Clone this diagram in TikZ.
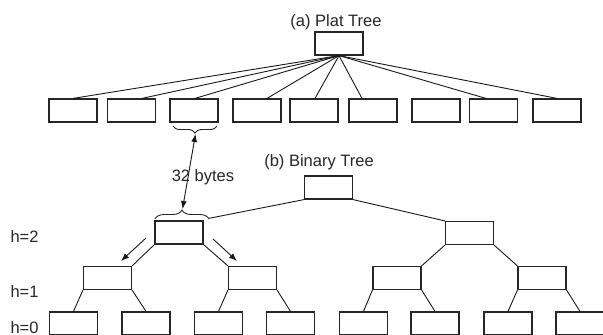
\documentclass[tikz,border=0pt]{standalone}
\usepackage{fontspec}
\setmainfont{Liberation Sans}
\usetikzlibrary{arrows.meta,decorations.pathreplacing}
\begin{document}
\begin{tikzpicture}[x=1pt,y=-1pt,
  box/.style={draw=black!85,line width=1.2pt,minimum width=48pt,minimum height=23pt,inner sep=0pt},
  edge/.style={draw=black!90,line width=0.9pt},
  lbl/.style={font=\fontsize{16.5}{20}\selectfont,text=black!85,inner sep=0pt,anchor=base},
  tip/.style={-{Latex[length=8pt,width=6pt]},line width=0.9pt,draw=black!90},
  bracket/.style={decorate,line width=0.9pt,draw=black!85},
]
\useasboundingbox (0,0) rectangle (603,335);

% ---------- (a) flat tree ----------
\node[lbl] (ta) at (336,26) {(a) Plat Tree};
\node[box] (fr) at (339,43.5) {};
\foreach \i/\x in {1/73,2/131.5,3/194,4/257,5/314,6/373,7/436,8/493.5,9/557}
  \node[box] (f\i) at (\x,110.5) {};

\draw[edge] (fr.south) -- (f1.north);
\draw[edge] (fr.south) -- ([xshift=10.5pt]f2.north);
\draw[edge] (fr.south) -- ([xshift=1pt]f3.north);
\draw[edge] (fr.south) -- ([xshift=10pt]f4.north);
\draw[edge] (fr.south) -- ([xshift=1pt]f5.north);
\draw[edge] (fr.south) -- ([xshift=-11pt]f6.north);
\draw[edge] (fr.south) -- ([xshift=-7.5pt]f8.north);
\draw[edge] (fr.south) -- (f9.north);

% ---------- (b) binary tree ----------
\node[lbl] (tb) at (319,166) {(b) Binary Tree};
\node[box] (br) at (328.5,187.5) {};
\node[box] (l2a) at (179,232.5) {};
\node[box] (l2b) at (469.5,233) {};
\foreach \i/\x in {a/107.5,b/252.5,c/397,d/542}
  \node[box] (l1\i) at (\x,278) {};
\foreach \i/\x in {a/73.5,b/146,c/218.5,d/290.5,e/363.5,f/435,g/508,h/580}
  \node[box] (l0\i) at (\x,323.5) {};

\node[lbl] (h2) at (24.5,242) {h=2};
\node[lbl] (h1) at (24.5,297) {h=1};
\node[lbl] (h0) at (24.5,333) {h=0};

\draw[edge] (br.south west) -- ([xshift=5pt,yshift=2pt]l2a.north east);
\draw[edge] (br.south east) -- (l2b.north west);
\draw[edge] (l2a.south west) -- (l1a.north east);
\draw[edge] (l2a.south east) -- (l1b.north west);
\draw[edge] (l2b.south west) -- (l1c.north east);
\draw[edge] (l2b.south east) -- (l1d.north west);
\draw[edge] (l1a.south west) -- (l0a.north);
\draw[edge] (l1a.south east) -- (l0b.north);
\draw[edge] (l1b.south west) -- (l0c.north);
\draw[edge] (l1b.south east) -- (l0d.north);
\draw[edge] (l1c.south west) -- (l0e.north);
\draw[edge] (l1c.south east) -- (l0f.north);
\draw[edge] (l1d.south west) -- (l0g.north);
\draw[edge] (l1d.south east) -- (l0h.north);

% descent arrows beside the h=2 node
\coordinate (dl0) at (146,238);
\coordinate (dl1) at (121,261);
\coordinate (dr0) at (213,239);
\coordinate (dr1) at (237,261);
\draw[tip] (dl0) -- (dl1);
\draw[tip] (dr0) -- (dr1);

% node size braces and the 32 bytes span
\draw[bracket,decoration={brace,mirror,amplitude=7pt}] (173,126) -- (217,126);
\draw[bracket,decoration={brace,amplitude=9pt}] (155,219) -- (209,219);
\coordinate (bt1) at (195.5,134);
\coordinate (bt2) at (182.5,209);
\draw[tip,{Latex[length=8pt,width=6pt]}-{Latex[length=8pt,width=6pt]}] (bt1) -- (bt2);
\node[lbl] (sz) at (203,181) {32 bytes};
\end{tikzpicture}
\end{document}
